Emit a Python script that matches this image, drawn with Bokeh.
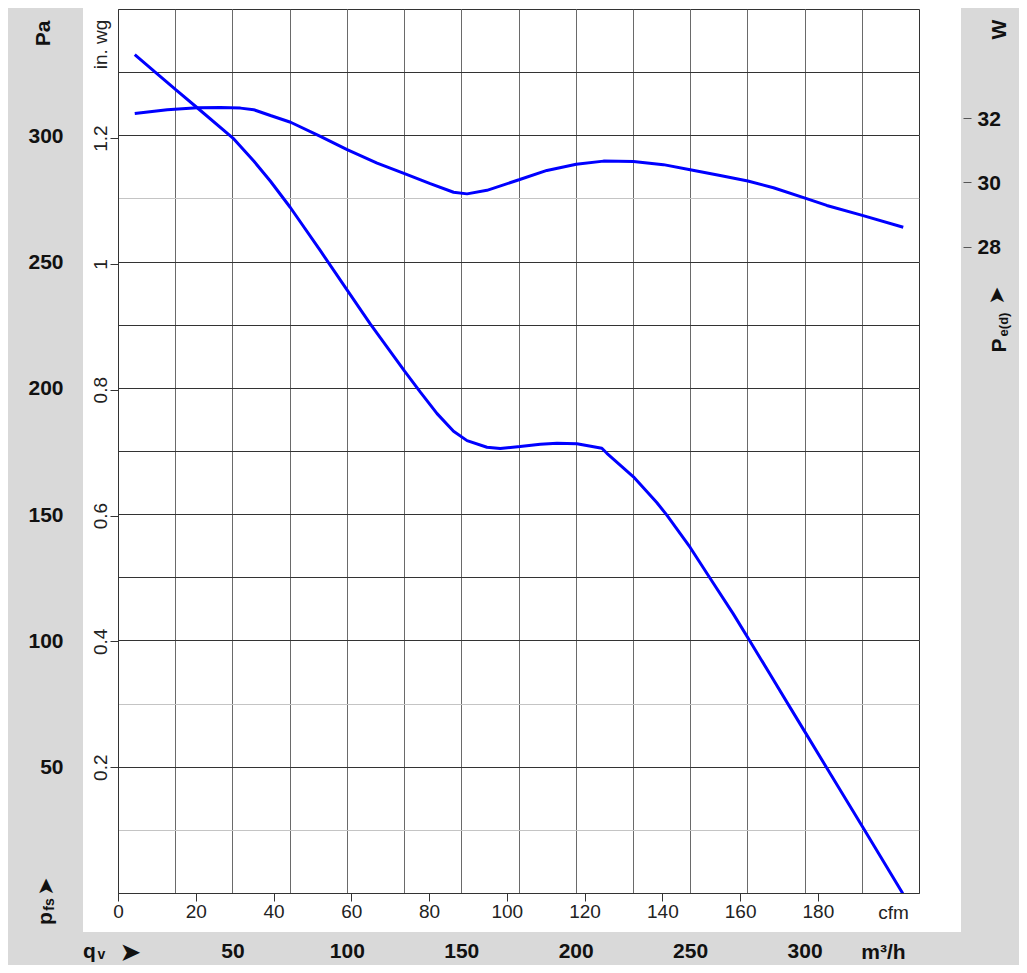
from bokeh.plotting import figure
from bokeh.models import (Range1d, LinearAxis, FixedTicker, Grid, Label,
                          CustomJSTickFormatter)
from bokeh.embed import file_html
from bokeh.resources import INLINE

# ---------------- data ----------------
# static pressure curve  (x: air flow qv in m3/h, y: pfs in Pa)
qv_pressure = [7.1, 15.9, 25.0, 34.4, 50.0, 59.1, 66.4, 75.0, 88.2, 100.0,
               110.0, 125.0, 131.9, 139.2, 146.4, 152.3, 161.0, 166.8, 175.5, 184.3,
               191.6, 200.3, 211.2, 213.4, 225.0, 235.2, 239.6, 249.8, 258.5, 268.7,
               276.0, 284.7, 293.5, 300.0, 309.5, 325.5, 342.7]
pfs_pa = [332.1, 325.3, 318.3, 311.1, 299.1, 290.0, 282.0, 271.7, 254.5, 238.8,
          225.5, 206.8, 198.5, 190.0, 183.0, 179.3, 176.7, 176.2, 177.0, 177.9,
          178.3, 178.1, 176.3, 174.3, 165.0, 154.8, 149.8, 137.0, 124.8, 110.6,
          99.8, 86.8, 73.6, 63.9, 49.7, 25.8, 0.0]

# power input curve  (x: qv in m3/h, y: Pe(d) in W)
qv_power = [7.1, 21.3, 34.4, 44.5, 53.3, 59.1, 66.4, 75.2, 88.2, 99.9,
            113.0, 125.0, 136.2, 146.4, 152.3, 161.0, 175.0, 187.2, 200.0, 211.9,
            225.0, 238.1, 249.8, 262.9, 275.0, 286.2, 300.0, 309.5, 325.0, 342.9]
pe_w = [32.16, 32.28, 32.34, 32.35, 32.33, 32.28, 32.10, 31.89, 31.45, 31.04,
        30.62, 30.29, 29.98, 29.71, 29.66, 29.77, 30.10, 30.39, 30.58, 30.68,
        30.67, 30.57, 30.41, 30.23, 30.06, 29.85, 29.53, 29.30, 28.99, 28.62]

# ticks / grid
pa_ticks = [50, 100, 150, 200, 250, 300]
inwg_ticks = [0.2, 0.4, 0.6, 0.8, 1.0, 1.2]
w_ticks = [28, 30, 32]
cfm_ticks = [0, 20, 40, 60, 80, 100, 120, 140, 160, 180]
m3h_ticks = [50, 100, 150, 200, 250, 300]
qv_grid = [25, 50, 75, 100, 125, 150, 175, 200, 225, 250, 275, 300, 325]
pa_grid_dark = [50, 100, 125, 150, 175, 200, 225, 250, 300, 325]
pa_grid_light = [25, 75, 275]

PA_PER_INWG = 249.089
M3H_PER_CFM = 1.699011
FONT = "Liberation Sans"
ARROW_FONT = "DejaVu Sans"
W, H = 1024, 970

p = figure(width=W, height=H,
           x_range=Range1d(0, 350), y_range=Range1d(0, 350),
           x_axis_location=None, y_axis_location=None,
           output_backend="svg", toolbar_location=None,
           min_border_left=118, min_border_right=W - 919,
           min_border_top=9, min_border_bottom=H - 893)
p.border_fill_color = None
p.background_fill_color = "white"
p.outline_line_color = "#333333"
p.styles = {"background": ("linear-gradient(#ffffff, #ffffff) 83px 8px / 878px 924px no-repeat, "
                           "linear-gradient(#d9d9d9, #d9d9d9) 8px 8px / 1011px 957px no-repeat, "
                           "#ffffff")}

p.extra_y_ranges = {"inwg": Range1d(0, 350 / PA_PER_INWG), "w": Range1d(7.88, 35.40)}
p.extra_x_ranges = {"cfm": Range1d(0, 350 / M3H_PER_CFM)}

p.add_layout(Grid(dimension=0, ticker=FixedTicker(ticks=qv_grid), grid_line_color="#6a6a6a"))
p.add_layout(Grid(dimension=1, ticker=FixedTicker(ticks=pa_grid_light), grid_line_color="#c4c4c4"))
p.add_layout(Grid(dimension=1, ticker=FixedTicker(ticks=pa_grid_dark), grid_line_color="#333333"))

ax_in = LinearAxis(y_range_name="inwg", ticker=FixedTicker(ticks=inwg_ticks),
                   formatter=CustomJSTickFormatter(code="return Math.abs(tick-1)<1e-9 ? '1' : tick.toFixed(1);"),
                   major_label_orientation="vertical",
                   major_tick_out=8, major_tick_in=0, minor_tick_out=0, minor_tick_in=0,
                   axis_line_color="#333333", major_tick_line_color="#333333",
                   major_label_standoff=3, major_label_text_font=FONT,
                   major_label_text_font_size="19px", major_label_text_color="#222222")
p.add_layout(ax_in, "left")

ax_pa = LinearAxis(ticker=FixedTicker(ticks=pa_ticks),
                   axis_line_color=None, major_tick_line_color=None, minor_tick_line_color=None,
                   major_tick_out=0, major_tick_in=0, minor_tick_out=0, minor_tick_in=0,
                   major_label_standoff=28, major_label_text_font=FONT,
                   major_label_text_font_size="21px", major_label_text_font_style="bold",
                   major_label_text_color="#111111")
p.add_layout(ax_pa, "left")

ax_w = LinearAxis(y_range_name="w", ticker=FixedTicker(ticks=w_ticks),
                  axis_line_color=None, minor_tick_line_color=None,
                  major_tick_in=-44, major_tick_out=52, minor_tick_in=0, minor_tick_out=0,
                  major_tick_line_color="#555555",
                  major_label_standoff=6, major_label_text_font=FONT,
                  major_label_text_font_size="21px", major_label_text_font_style="bold",
                  major_label_text_color="#111111")
p.add_layout(ax_w, "right")

ax_cfm = LinearAxis(x_range_name="cfm", ticker=FixedTicker(ticks=cfm_ticks),
                    major_tick_out=8, major_tick_in=0, minor_tick_out=0, minor_tick_in=0,
                    axis_line_color="#333333", major_tick_line_color="#333333",
                    major_label_standoff=3, major_label_text_font=FONT,
                    major_label_text_font_size="19px", major_label_text_color="#222222")
p.add_layout(ax_cfm, "below")

ax_m3 = LinearAxis(ticker=FixedTicker(ticks=m3h_ticks),
                   axis_line_color=None, major_tick_line_color=None, minor_tick_line_color=None,
                   major_tick_out=0, major_tick_in=0, minor_tick_out=0, minor_tick_in=0,
                   major_label_standoff=23, major_label_text_font=FONT,
                   major_label_text_font_size="21px", major_label_text_font_style="bold",
                   major_label_text_color="#111111")
p.add_layout(ax_m3, "below")

p.line(qv_pressure, pfs_pa, line_color="#0000ff", line_width=3)
p.line(qv_power, pe_w, y_range_name="w", line_color="#0000ff", line_width=3)

# ---- transparent overlay (second root) for the free texts around the frame ----
t = figure(width=W, height=H, x_range=Range1d(0, W), y_range=Range1d(H, 0),
           x_axis_location=None, y_axis_location=None,
           output_backend="svg", toolbar_location=None,
           min_border=0, min_border_left=0, min_border_right=0,
           min_border_top=0, min_border_bottom=0)
t.border_fill_color = None
t.background_fill_color = None
t.outline_line_color = None
t.grid.visible = False
for r in list(t.center):
    if isinstance(r, Grid):
        r.visible = False
t.styles = {"position": "absolute", "left": "0px", "top": "0px", "pointer-events": "none"}

R = 1.5707963


def lab(text, x, y, size, bold=True, angle=0.0, color="#111111",
        font=FONT, baseline="middle", align="center"):
    t.add_layout(Label(x=x, y=y, text=text, text_align=align, text_baseline=baseline,
                       angle=angle, text_font=font, text_font_size=f"{size}px",
                       text_font_style="bold" if bold else "normal",
                       text_color=color))


lab("Pa", 42, 33, 21, angle=R)
lab("in. wg", 100, 44, 19, bold=False, angle=R, color="#222222")
lab("p", 44, 918, 21, angle=R)
lab("fs", 48, 904, 14, angle=R)
lab("➤", 45, 886, 22, angle=R, font=ARROW_FONT)
lab("W", 998, 29, 21, angle=R)
lab("P", 998, 345, 21, angle=R)
lab("e(d)", 1003, 324, 13, angle=R)
lab("➤", 996, 295, 22, angle=R, font=ARROW_FONT)
lab("q", 89, 950, 21)
lab("v", 101, 953, 14)
lab("➤", 130, 951, 26, font=ARROW_FONT)
lab("m³/h", 883, 951, 21)
lab("cfm", 893, 912, 19, bold=False, color="#222222")

open("out.html", "w").write(file_html([p, t], INLINE))
